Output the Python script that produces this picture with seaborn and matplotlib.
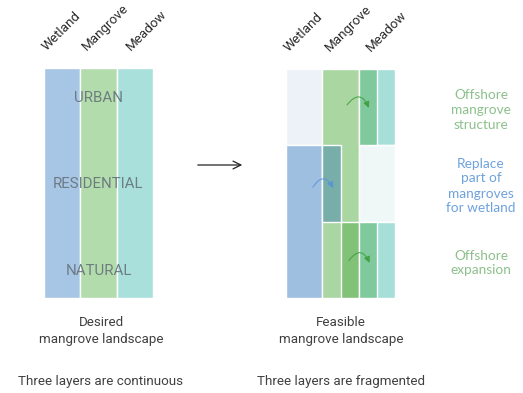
import numpy as np
import pandas as pd
import seaborn as sns
import matplotlib.pyplot as plt

# layers (columns) and land-use zones (rows, bottom to top)
layers = ['Wetland', 'Mangrove', 'Meadow']
zones = ['NATURAL', 'RESIDENTIAL', 'URBAN']

# desired landscape: every layer runs through all zones
desired_from = [0, 0, 0]
desired_to = [3, 3, 3]

# feasible landscape pieces: left edge, width, zone from, zone to, kind
feas_left = [0, 0, 1, 2, 2, 2, 2, 1, 1.5, 2]
feas_width = [1, 1, 1, 1, 1, 1, 0.5, 0.5, 0.5, 0.5]
feas_from = [2, 0, 0, 2, 1, 0, 2, 1, 0, 0]
feas_to = [3, 2, 3, 3, 2, 1, 3, 2, 1, 1]
feas_kind = ['wetland_gone', 'wetland', 'mangrove', 'meadow', 'meadow_gone', 'meadow',
             'offshore', 'replaced', 'expansion', 'offshore']

notes = ['Offshore\nmangrove\nstructure', 'Replace\npart of\nmangroves\nfor wetland',
         'Offshore\nexpansion']

palette = {'wetland': '#9fbfe1', 'mangrove': '#a9d6a1', 'meadow': '#a5dfd8',
           'wetland_gone': '#edf1f8', 'meadow_gone': '#eff8f7',
           'offshore': '#80c99c', 'replaced': '#77aeaa', 'expansion': '#81c178'}
desired_colors = ['#a7c5e4', '#b3dcad', '#a9e0db']

sns.set_theme(style='white')
plt.rcParams['font.family'] = ['Roboto', 'DejaVu Sans']

W, H = 523, 393
fig = plt.figure(figsize=(W / 100, H / 100), dpi=100)


def px(x, y):
    return x / W, 1 - y / H


def panel(x0, x1, y0, y1):
    ax = fig.add_axes([x0 / W, 1 - y1 / H, (x1 - x0) / W, (y1 - y0) / H])
    ax.set_xlim(0, 3)
    ax.set_ylim(0, 3)
    ax.axis('off')
    return ax


# desired panel
ax1 = panel(44, 153, 68, 298)
ax1.bar(np.arange(3), np.array(desired_to) - np.array(desired_from), width=1,
        bottom=desired_from, align='edge', color=desired_colors,
        edgecolor='white', linewidth=1)
for z, ypos in zip(zones, [0.35, 1.49, 2.61]):
    ax1.text(1.5, ypos, z, ha='center', va='center', fontsize=10.8,
             color='#66737a', alpha=0.9)

# feasible panel
ax2 = panel(286, 395, 69, 298)
feas = pd.DataFrame({'left': feas_left, 'width': feas_width, 'y0': feas_from,
                     'y1': feas_to, 'kind': feas_kind})
ax2.bar(feas['left'], feas['y1'] - feas['y0'], width=feas['width'], bottom=feas['y0'],
        align='edge', color=[palette[k] for k in feas['kind']],
        edgecolor='white', linewidth=1)

arrows = [((0.74, 1.45), (1.3, 1.44), '#5b93d6'),
          ((1.68, 2.53), (2.28, 2.49), '#3f9e3f'),
          ((1.73, 0.49), (2.3, 0.46), '#3f9e3f')]
for start, end, c in arrows:
    ax2.annotate('', xy=end, xytext=start,
                 arrowprops=dict(arrowstyle='-|>', color=c, lw=0.8, alpha=0.85,
                                 mutation_scale=9, shrinkA=0, shrinkB=0,
                                 connectionstyle='arc3,rad=-0.85'))

# column labels
for ax, offs in [(ax1, [0.06, 1.18, 2.38]), (ax2, [0.06, 1.2, 2.33])]:
    for name, o in zip(layers, offs):
        ax.text(o, 3.22, name, rotation=45, rotation_mode='anchor', ha='left',
                va='baseline', fontsize=9.6, color='#2a2a2a', clip_on=False)

# transition arrow
ax1.annotate('', xy=(245, H - 165), xytext=(195, H - 165), xycoords='figure pixels',
             textcoords='figure pixels',
             arrowprops=dict(arrowstyle='->', color='#222222', lw=0.9, mutation_scale=14))

# captions
txt = dict(ha='center', va='center', fontsize=9.6, color='#404040', linespacing=1.3)
fig.text(*px(101, 331), 'Desired\nmangrove landscape', **txt)
fig.text(*px(341, 331), 'Feasible\nmangrove landscape', **txt)
fig.text(*px(101, 382), 'Three layers are continuous', **txt)
fig.text(*px(341, 382), 'Three layers are fragmented', **txt)

note_style = dict(ha='center', va='center', fontsize=9.8, linespacing=1.3,
                  family=['Lato', 'DejaVu Sans'])
fig.text(*px(481, 110), notes[0], color='#8cc08c', **note_style)
fig.text(*px(481, 186), notes[1], color='#6ea2dc', **note_style)
fig.text(*px(481, 263), notes[2], color='#8cc08c', **note_style)

fig.savefig('out.png', dpi=100)
